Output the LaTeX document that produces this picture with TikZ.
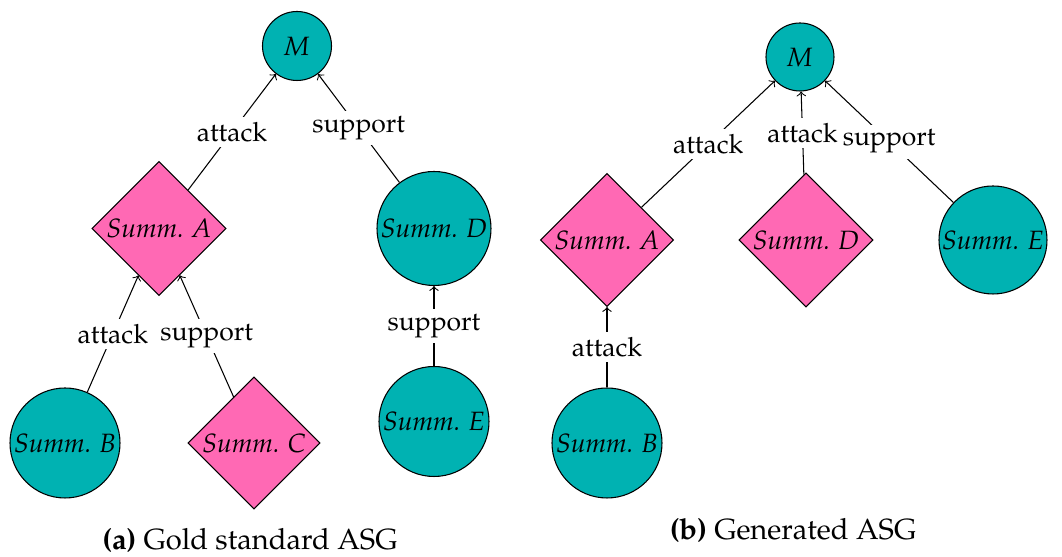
\documentclass[tikz,border=0pt]{standalone}
\usepackage[T1]{fontenc}
\usepackage{mathpazo}
\usetikzlibrary{shapes.geometric}
\definecolor{argteal}{RGB}{0,178,178}
\definecolor{argpink}{RGB}{255,105,180}
\tikzset{
  claim/.style={circle, draw, fill=argteal, inner sep=0pt, minimum size={#1*0.3774pt}, font=\fontsize{10}{12}\selectfont\itshape},
  summdia/.style={diamond, draw, fill=argpink, inner sep=0pt, aspect=1, minimum size={#1*0.3774pt}, font=\fontsize{10}{12}\selectfont\itshape},
  rel/.style={fill=white, inner sep=2pt, font=\fontsize{10}{12}\selectfont},
  caption/.style={anchor=base, font=\fontsize{11}{13}\selectfont},
  edge/.style={->, thin}
}
\begin{document}
\begin{tikzpicture}[x=0.3774pt, y=-0.3774pt]
\useasboundingbox (0,0) rectangle (1062,557);

% (a) gold standard graph
\node[claim=69]   (Ma) at (297,46)    {M};
\node[summdia=134] (Aa) at (159,228.5) {Summ. A};
\node[claim=114]  (Da) at (434,228.5) {Summ. D};
\node[claim=110]  (Ba) at (65,443)    {Summ. B};
\node[summdia=132] (Ca) at (254,443)   {Summ. C};
\node[claim=110]  (Ea) at (434,421.5) {Summ. E};

\draw[edge] (Aa) -- node[rel] {attack}  (Ma);
\draw[edge] (Da) -- node[rel] {support} (Ma);
\draw[edge] (Ba) -- node[rel] {attack}  (Aa);
\draw[edge] (Ca) -- node[rel] {support} (Aa);
\draw[edge] (Ea) -- node[rel] {support} (Da);

\node[caption] (capa) at (250,550) {\textbf{(a)} Gold standard ASG};

% (b) generated graph
\node[claim=68]   (Mb) at (800,57)  {M};
\node[summdia=133] (Ab) at (607,240) {Summ. A};
\node[summdia=134] (Db) at (806,240) {Summ. D};
\node[claim=108]  (Eb) at (993,240) {Summ. E};
\node[claim=110]  (Bb) at (607,443) {Summ. B};

\draw[edge] (Ab) -- node[rel] {attack}  (Mb);
\draw[edge] (Db) -- node[rel] {attack}  (Mb);
\draw[edge] (Eb) -- node[rel] {support} (Mb);
\draw[edge] (Bb) -- node[rel] {attack}  (Ab);

\node[caption] (capb) at (793,540) {\textbf{(b)} Generated ASG};
\end{tikzpicture}
\end{document}
